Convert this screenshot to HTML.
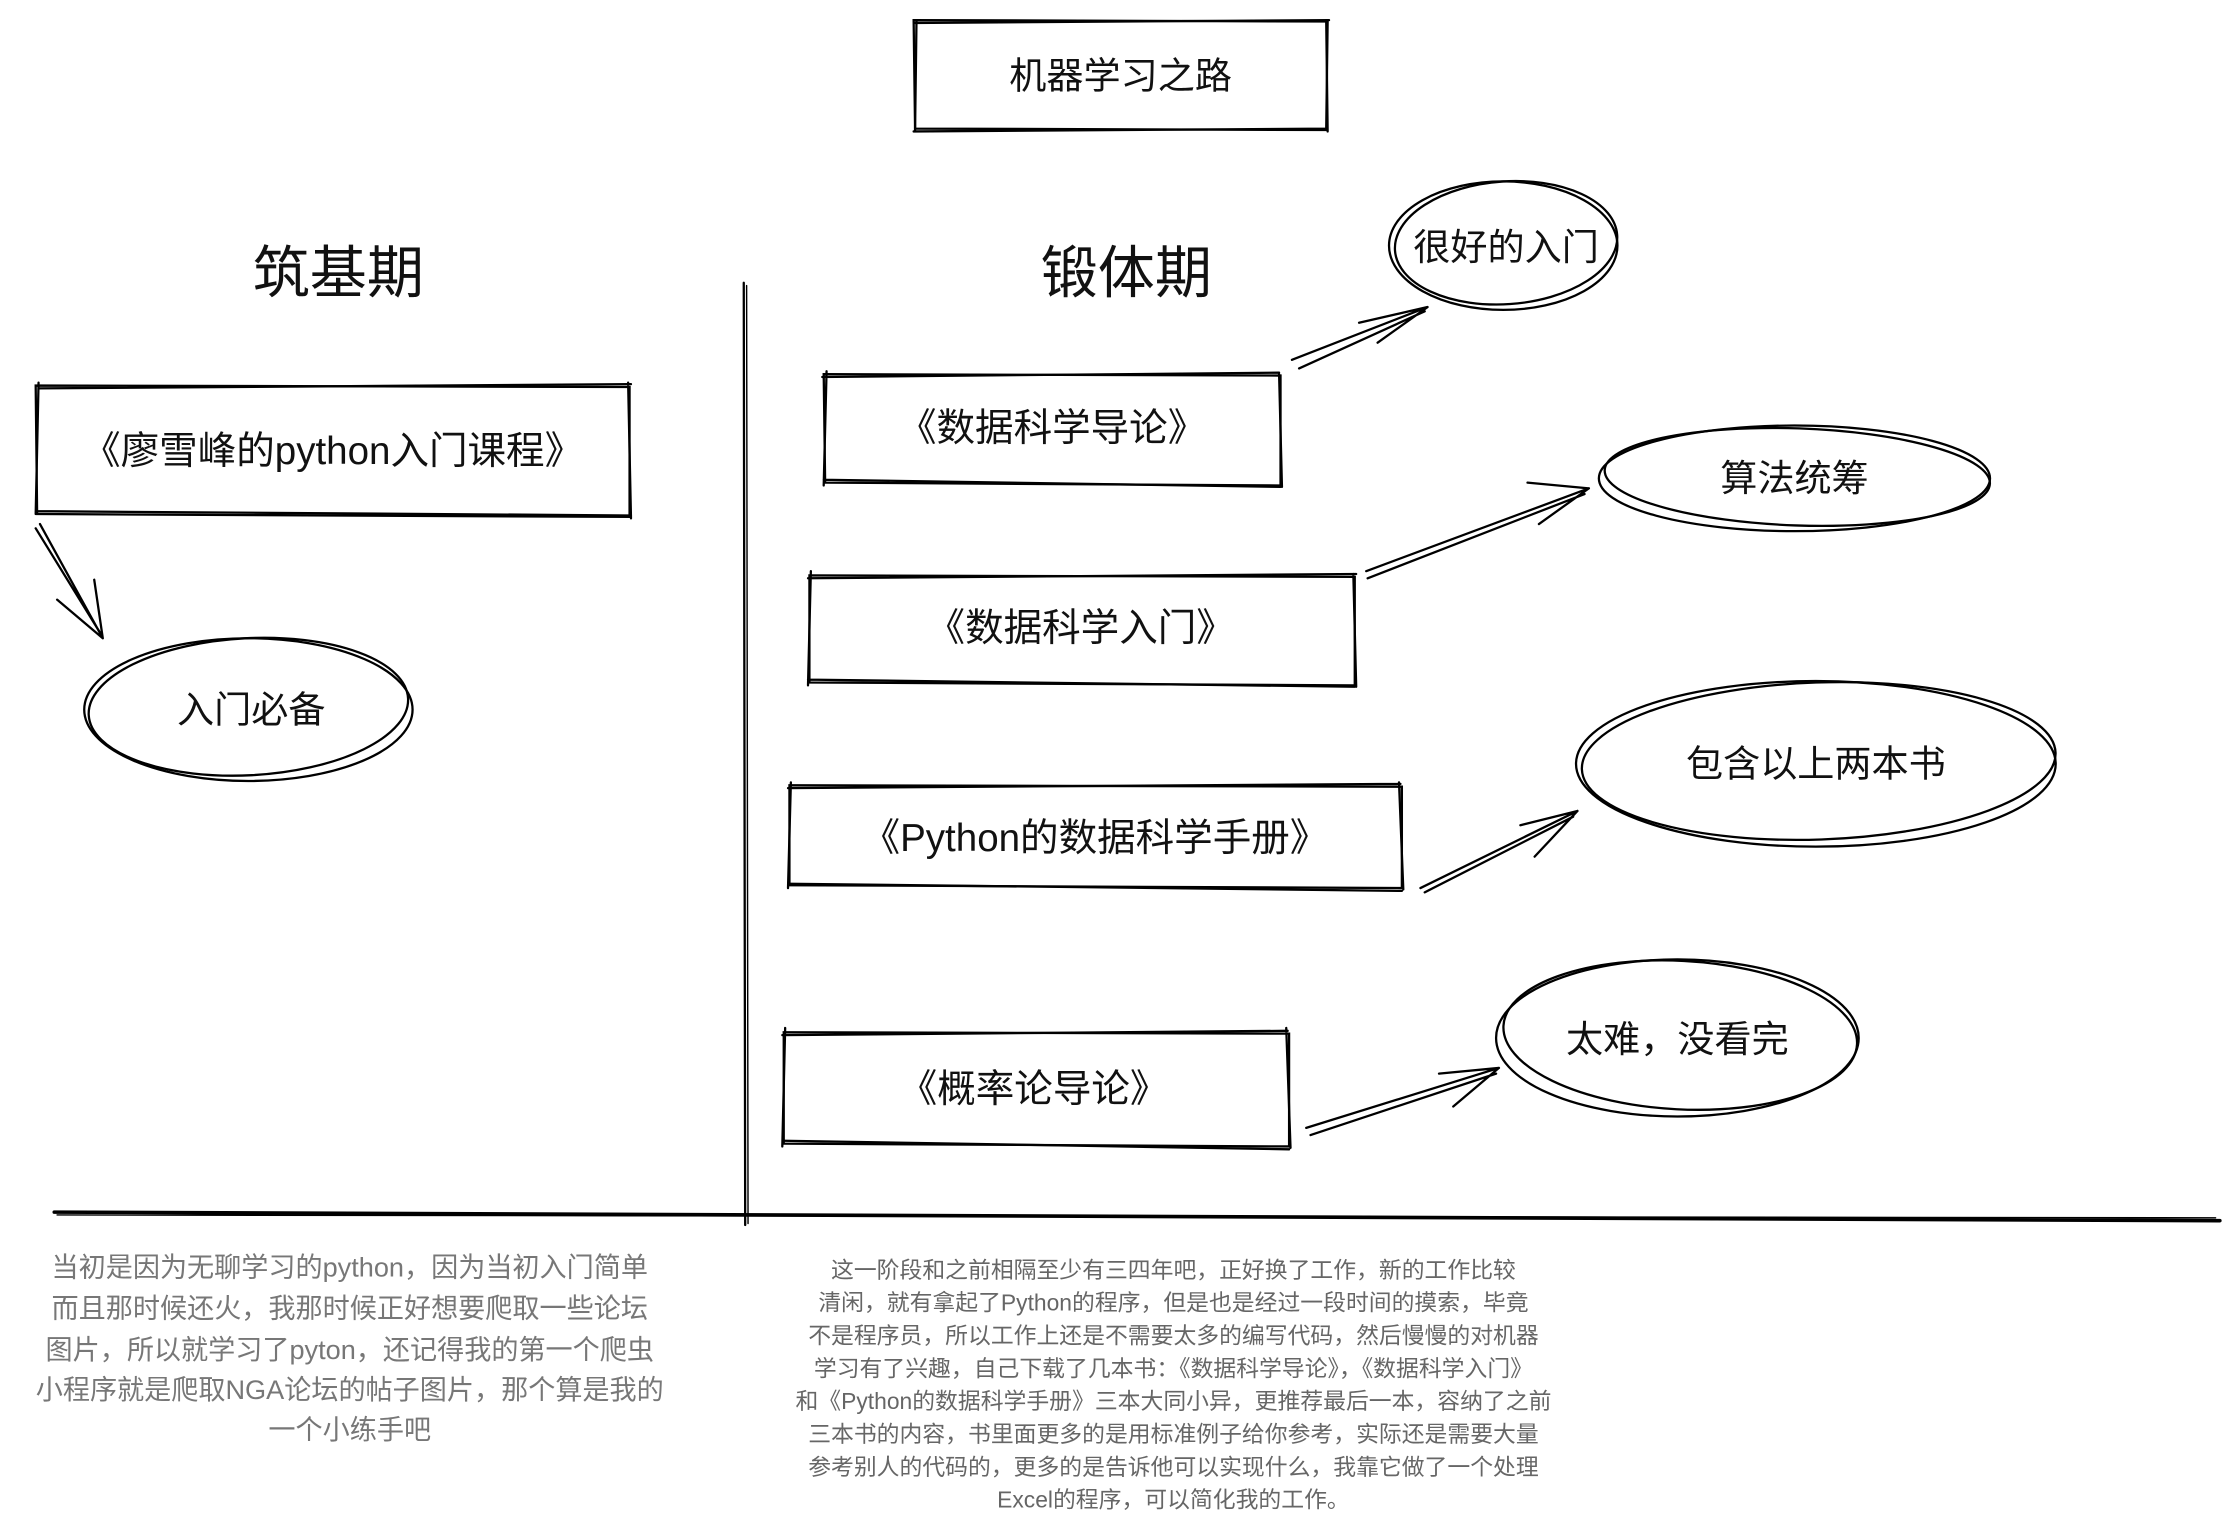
<!DOCTYPE html>
<html><head><meta charset="utf-8"><style>
html,body{margin:0;padding:0;background:#fff;}
svg{display:block;}
text{font-family:"Liberation Sans","Noto Sans CJK SC",sans-serif;}
</style></head><body>
<svg width="2227" height="1522" viewBox="0 0 1560 1066" xmlns="http://www.w3.org/2000/svg">
<g fill="none" stroke="#000" stroke-width="1.6" stroke-linecap="round">
<!-- title box -->
<path d="M640 14 L930 15 L929 91 L641 90 Z"/><path d="M641 16 L931 14 M929 14 L930 92 M640 92 L930 90 M642 14 L641 91"/>
<!-- divider lines -->
<path d="M521 198 L522 858"/><path d="M523 200 L524 857" stroke-width="1"/>
<path d="M38 849 L1555 855" stroke-width="2.5"/><path d="M40 851 L1552 853" stroke-width="1"/>
<!-- box1 -->
<path d="M25 270 L441 271 L441 362 L26 360 Z"/><path d="M27 272 L442 269 M440 268 L442 363 M25 358 L442 361 M27 268 L25 360"/>
<path d="M28 367 L72 447 M25 370 L70 443 M72 447 L66 406 M72 447 L40 420"/>
<ellipse cx="174" cy="497" rx="115" ry="50"/><ellipse cx="174" cy="495" rx="112" ry="48" transform="rotate(-3 174 495)"/>
<!-- right boxes -->
<path d="M577 262 L897 263 L897 340 L578 338 Z"/><path d="M576 264 L896 261 M896 262 L898 341 M577 336 L897 341 M579 260 L577 340"/>
<path d="M567 403 L949 404 L949 480 L567 478 Z"/><path d="M566 405 L950 402 M948 402 L950 481 M566 476 L949 481 M568 400 L566 480"/>
<path d="M553 550 L982 551 L982 622 L553 620 Z"/><path d="M552 552 L981 549 M980 548 L983 623 M553 619 L982 624 M554 548 L552 622"/>
<path d="M549 723 L903 724 L903 803 L549 801 Z"/><path d="M548 725 L902 722 M901 720 L904 804 M549 799 L903 805 M550 720 L548 803"/>
<!-- arrows -->
<path d="M905 252 L1000 215 M910 258 L998 218 M1000 215 L952 226 M1000 215 L965 240"/>
<path d="M957 400 L1113 342 M958 405 L1110 346 M1113 342 L1070 338 M1113 342 L1078 367"/>
<path d="M995 622 L1105 568 M998 625 L1102 572 M1105 568 L1065 578 M1105 568 L1075 600"/>
<path d="M915 790 L1050 748 M918 795 L1048 752 M1050 748 L1008 752 M1050 748 L1018 775"/>
<!-- ellipses -->
<ellipse cx="1053" cy="172" rx="80" ry="45"/><ellipse cx="1055" cy="170" rx="78" ry="43" transform="rotate(-4 1055 170)"/>
<ellipse cx="1257" cy="335" rx="137" ry="37"/><ellipse cx="1259" cy="334" rx="135" ry="34" transform="rotate(2 1259 334)"/>
<ellipse cx="1272" cy="535" rx="168" ry="58"/><ellipse cx="1274" cy="533" rx="166" ry="55" transform="rotate(-2 1274 533)"/>
<ellipse cx="1175" cy="727" rx="127" ry="55"/><ellipse cx="1177" cy="725" rx="124" ry="52" transform="rotate(3 1177 725)"/>
</g>
<g text-anchor="middle" fill="#111">
<text x="785" y="62" font-size="26">机器学习之路</text>
<text x="237" y="205" font-size="40">筑基期</text>
<text x="789" y="205" font-size="40">锻体期</text>
<text x="233" y="325" font-size="27">《廖雪峰的python入门课程》</text>
<text x="176" y="506" font-size="26">入门必备</text>
<text x="737" y="309" font-size="27">《数据科学导论》</text>
<text x="757" y="449" font-size="27">《数据科学入门》</text>
<text x="767" y="596" font-size="27">《Python的数据科学手册》</text>
<text x="724" y="772" font-size="27">《概率论导论》</text>
<text x="1055" y="182" font-size="26">很好的入门</text>
<text x="1257" y="344" font-size="26">算法统筹</text>
<text x="1272" y="544" font-size="26">包含以上两本书</text>
<text x="1175" y="737" font-size="26">太难，没看完</text>
</g>
<g text-anchor="middle" fill="#777" font-size="19">
<text x="245" y="894">当初是因为无聊学习的python，因为当初入门简单</text>
<text x="245" y="923">而且那时候还火，我那时候正好想要爬取一些论坛</text>
<text x="245" y="952">图片，所以就学习了pyton，还记得我的第一个爬虫</text>
<text x="245" y="980">小程序就是爬取NGA论坛的帖子图片，那个算是我的</text>
<text x="245" y="1008">一个小练手吧</text>
</g>
<g text-anchor="middle" fill="#666" font-size="16">
<text x="822" y="895">这一阶段和之前相隔至少有三四年吧，正好换了工作，新的工作比较</text>
<text x="822" y="918">清闲，就有拿起了Python的程序，但是也是经过一段时间的摸索，毕竟</text>
<text x="822" y="941">不是程序员，所以工作上还是不需要太多的编写代码，然后慢慢的对机器</text>
<text x="822" y="964">学习有了兴趣，自己下载了几本书：《数据科学导论》，《数据科学入门》</text>
<text x="822" y="987">和《Python的数据科学手册》三本大同小异，更推荐最后一本，容纳了之前</text>
<text x="822" y="1010">三本书的内容，书里面更多的是用标准例子给你参考，实际还是需要大量</text>
<text x="822" y="1033">参考别人的代码的，更多的是告诉他可以实现什么，我靠它做了一个处理</text>
<text x="822" y="1056">Excel的程序，可以简化我的工作。</text>
</g>
</svg>
</body></html>
